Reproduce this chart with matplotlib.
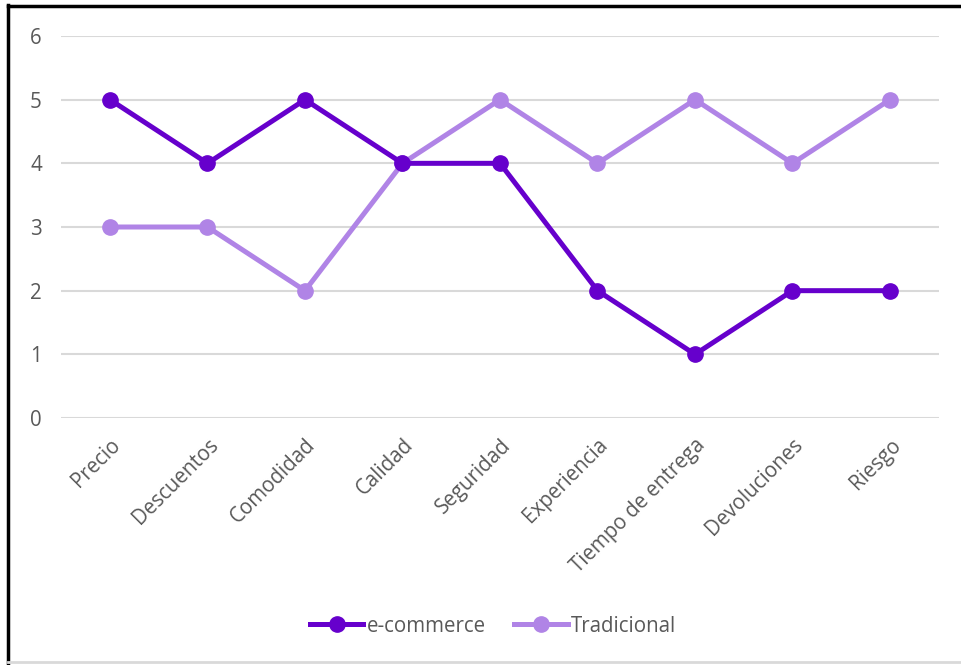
import matplotlib
matplotlib.use("Agg")
import matplotlib.pyplot as plt
from matplotlib.lines import Line2D

categories = ["Precio", "Descuentos", "Comodidad", "Calidad", "Seguridad",
              "Experiencia", "Tiempo de entrega", "Devoluciones", "Riesgo"]
ecommerce = [5, 4, 5, 4, 4, 2, 1, 2, 2]
tradicional = [3, 3, 2, 4, 5, 4, 5, 4, 5]
yticks = [0, 1, 2, 3, 4, 5, 6]

plt.rcParams['font.family'] = ['Open Sans', 'DejaVu Sans']
W, H = 962, 665
fig = plt.figure(figsize=(W/100, H/100), dpi=100)
ax = fig.add_axes([61.25/W, 1-418/H, 877.5/W, (418-36)/H])

c1 = '#6600CC'
c2 = '#B084E6'
fs = 14.8
x = list(range(len(categories)))
ax.plot(x, tradicional, color=c2, lw=3.6, marker='o', ms=11, zorder=3, label='Tradicional', solid_capstyle='round')
ax.plot(x, ecommerce, color=c1, lw=3.6, marker='o', ms=11, zorder=4, label='e-commerce', solid_capstyle='round')

ax.set_xlim(-0.5, len(categories)-0.5)
ax.set_ylim(0, 6)
ax.set_yticks(yticks)
ax.set_xticks(x)
ax.set_xticklabels(categories, rotation=45, ha='right', rotation_mode='anchor')
ax.tick_params(axis='both', length=0, labelsize=fs, labelcolor='#595959')
ax.tick_params(axis='y', pad=14)
ax.tick_params(axis='x', pad=12)
for s in ax.spines.values():
    s.set_visible(False)
ax.grid(axis='y', color='#D9D9D9', lw=1.5)
ax.set_axisbelow(True)

handles = [Line2D([], [], color=c1, lw=3.6, marker='o', ms=11),
           Line2D([], [], color=c2, lw=3.6, marker='o', ms=11)]
fig.legend(handles, ['e-commerce', 'Tradicional'], loc='center', bbox_to_anchor=(493/W, 1-626/H),
           ncol=2, frameon=False, fontsize=fs, labelcolor='#595959',
           handlelength=2.6, handletextpad=0.15, columnspacing=1.4)

# outer frame
fig.add_artist(Line2D([8/W, 8/W], [1-5/H, 0], color='black', lw=2.5, transform=fig.transFigure))
fig.add_artist(Line2D([8/W, 1], [1-6/H, 1-6/H], color='black', lw=2.5, transform=fig.transFigure))
fig.add_artist(Line2D([8/W, 1], [1-662/H, 1-662/H], color='#D9D9D9', lw=2, transform=fig.transFigure))

fig.savefig('out.png', dpi=100)
